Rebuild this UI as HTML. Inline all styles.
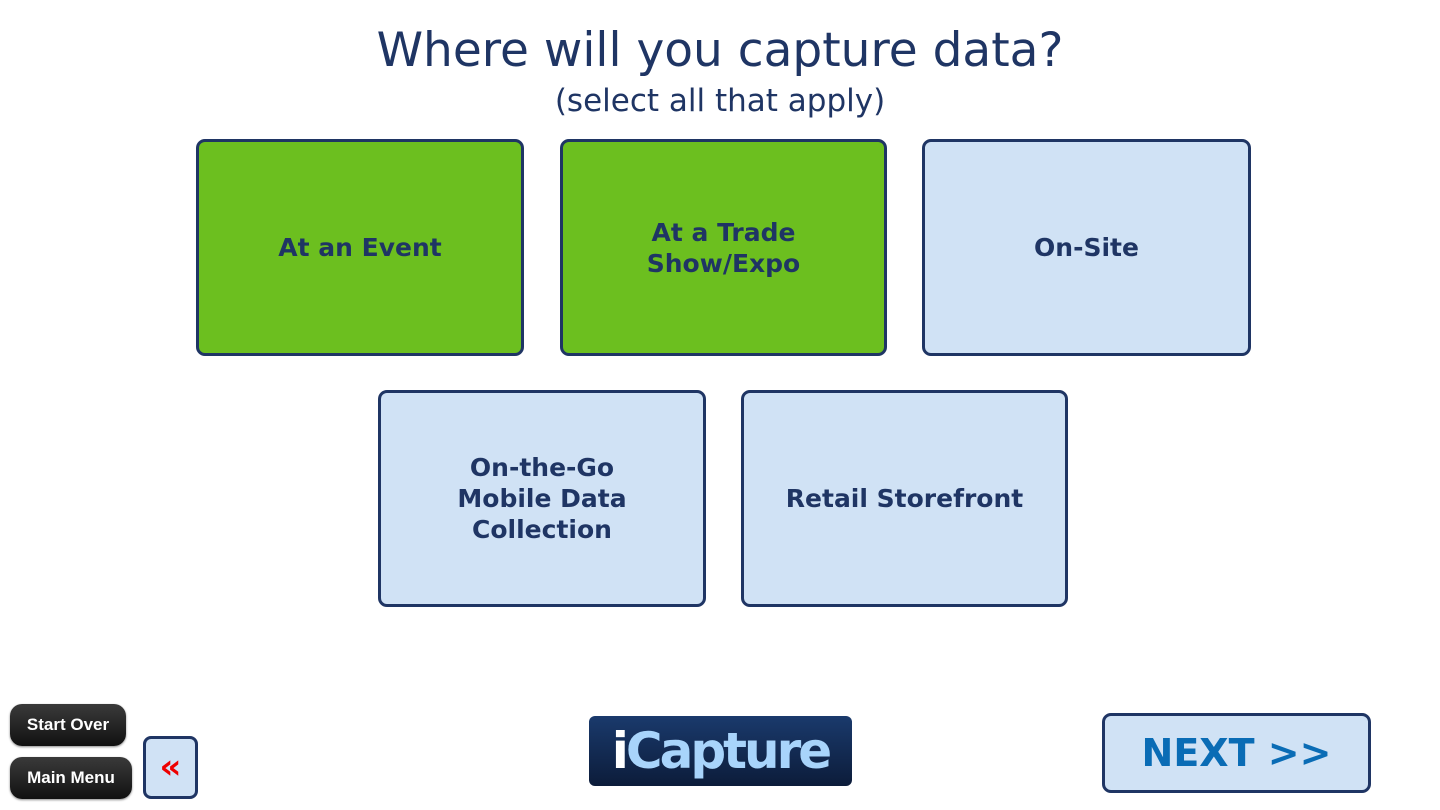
<!DOCTYPE html>
<html><head><style>
body{margin:0;width:1440px;height:810px;background:#fff;position:relative;overflow:hidden;font-family:"DejaVu Sans","Liberation Sans",sans-serif}
.t{position:absolute;left:0;width:1440px;text-align:center;color:#1f3564}
.b{position:absolute;box-sizing:border-box;border:3px solid #1f3564;border-radius:9px;background:#d0e2f5;display:flex;align-items:center;justify-content:center;text-align:center;font-weight:bold;font-size:25px;line-height:31px;color:#1f3564}
.g{background:#6cbf1f}
.k{position:absolute;box-sizing:border-box;background:linear-gradient(#3a3a3a,#111);border-radius:12px;color:#fff;font-family:"Liberation Sans",sans-serif;font-weight:bold;font-size:17px;display:flex;align-items:center;justify-content:center;box-shadow:0 1px 2px #888}
</style></head><body>
<div class="t" style="top:23px;font-size:47px">Where will you capture data?</div>
<div class="t" style="top:83px;font-size:31px">(select all that apply)</div>
<div class="b g" style="left:196px;top:139px;width:328px;height:217px">At an Event</div>
<div class="b g" style="left:560px;top:139px;width:327px;height:217px">At a Trade<br>Show/Expo</div>
<div class="b" style="left:922px;top:139px;width:329px;height:217px">On-Site</div>
<div class="b" style="left:378px;top:390px;width:328px;height:217px">On-the-Go<br>Mobile Data<br>Collection</div>
<div class="b" style="left:741px;top:390px;width:327px;height:217px">Retail Storefront</div>
<div class="k" style="left:10px;top:704px;width:116px;height:42px">Start Over</div>
<div class="k" style="left:10px;top:757px;width:122px;height:42px">Main Menu</div>
<div class="b" style="left:143px;top:736px;width:55px;height:63px;border-radius:8px;color:#e00;font-size:34px">«</div>
<div style="position:absolute;left:589px;top:716px;width:263px;height:70px;border-radius:6px;background:linear-gradient(#1a3a6c,#0c1c3a);display:flex;align-items:center;justify-content:center;font-family:'DejaVu Sans',sans-serif;font-weight:bold;font-size:50px;letter-spacing:-3px;color:#a8d4fb"><span style="color:#fff">i</span>Capture</div>
<div class="b" style="left:1102px;top:713px;width:269px;height:80px;font-size:38px;color:#0a6cb5">NEXT &gt;&gt;</div>
</body></html>
